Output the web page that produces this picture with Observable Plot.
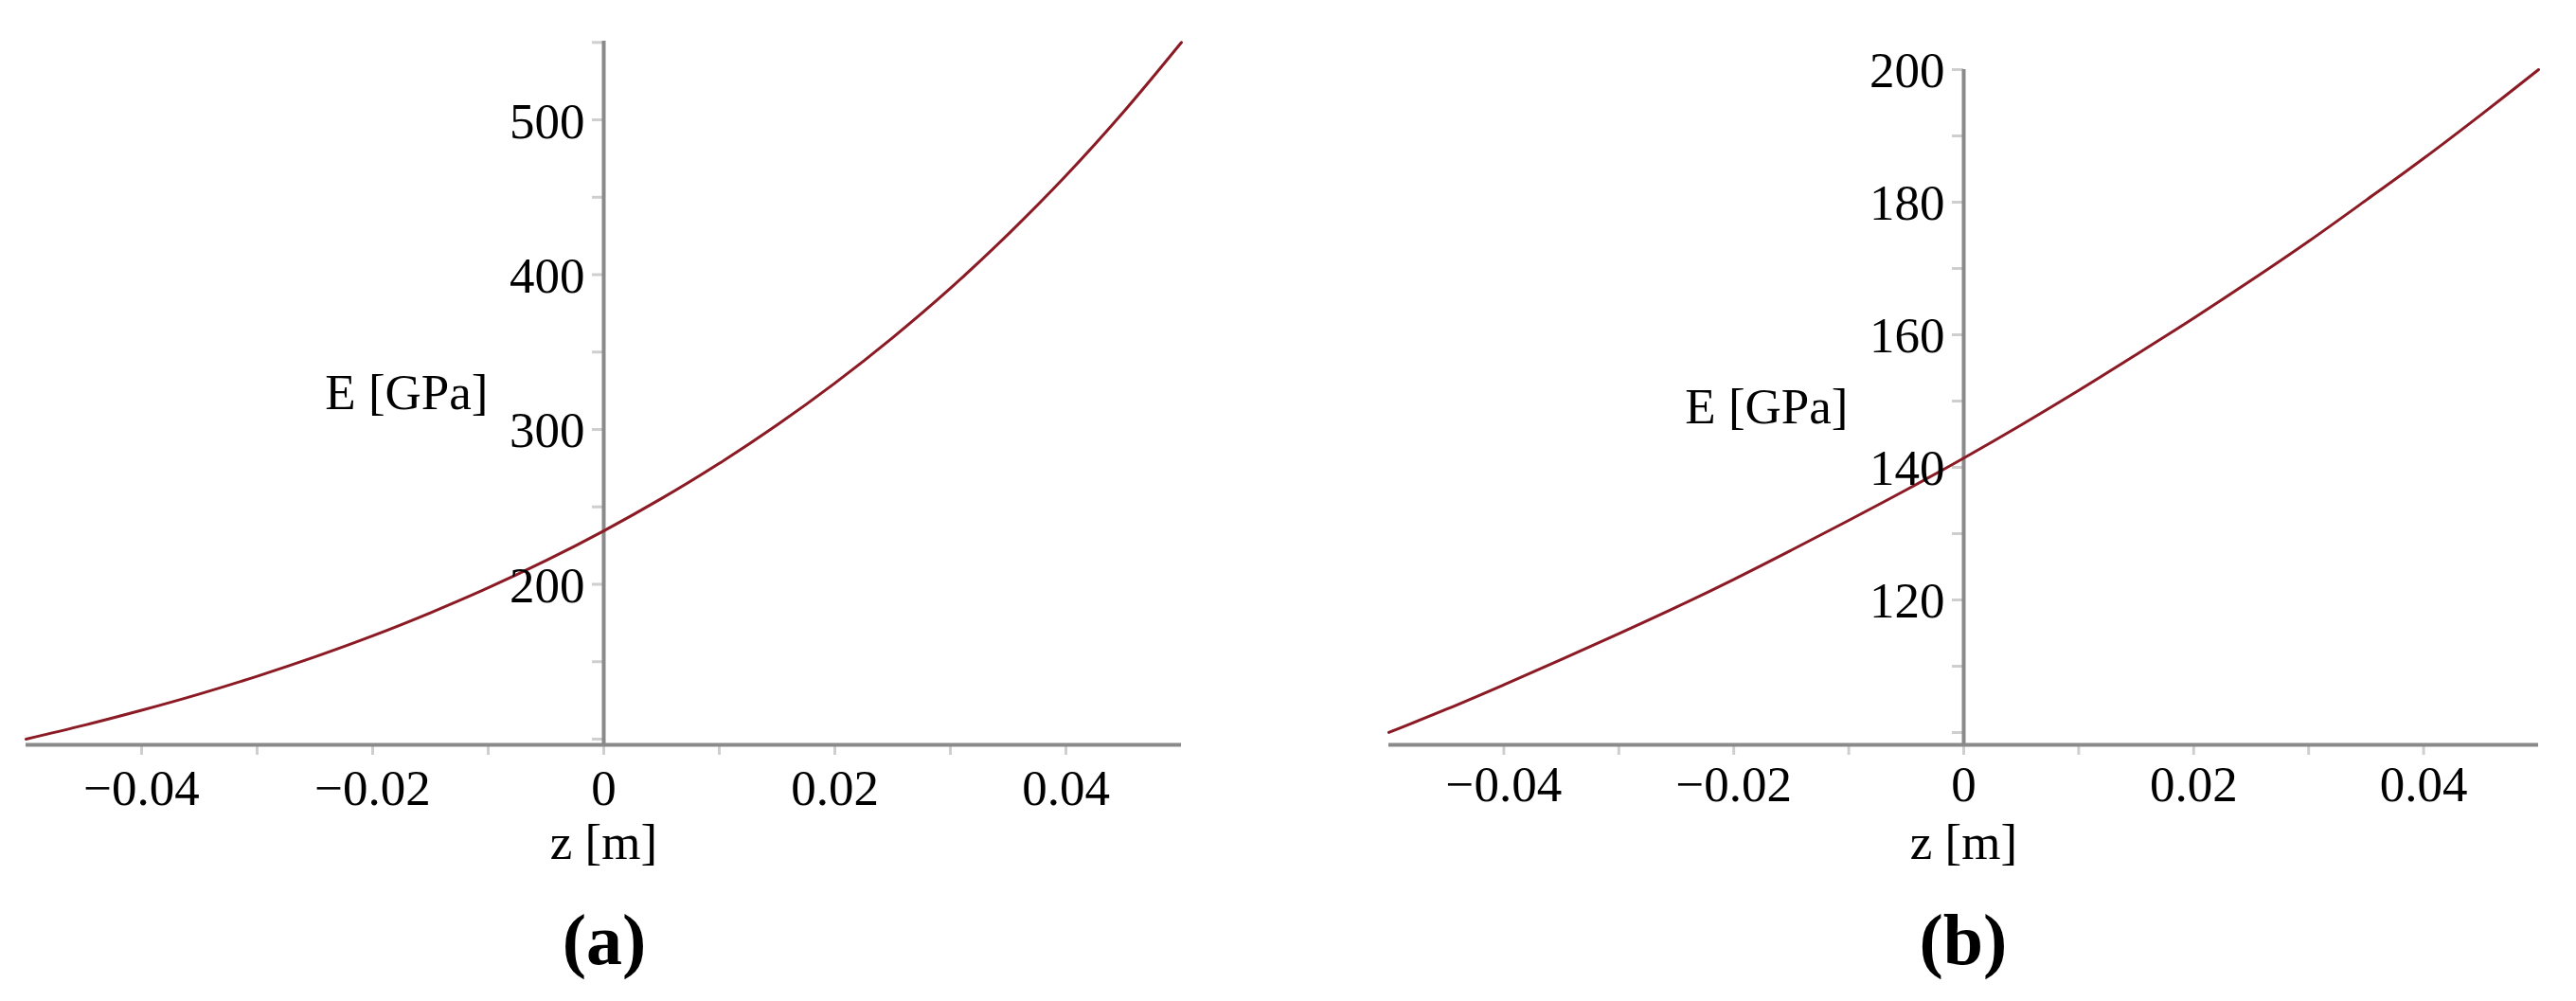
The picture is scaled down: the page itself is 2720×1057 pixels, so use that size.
<!DOCTYPE html>
<html>
<head>
<meta charset="utf-8">
<script src="https://cdn.jsdelivr.net/npm/d3@7"></script>
<script src="https://cdn.jsdelivr.net/npm/@observablehq/plot@0.6"></script>
<style>
  html, body { margin: 0; padding: 0; background: #ffffff; }
  #wrap { position: relative; width: 2720px; height: 1057px; overflow: hidden; background: #fff; }
  .panel { position: absolute; top: 0; width: 1360px; height: 1057px; }
  .panel svg { position: absolute; left: 0; top: 0; }
  .cap { position: absolute; top: 954px; width: 400px; text-align: center;
         font: bold 76px "Liberation Serif", "Times New Roman", serif; line-height: 76px; color: #000; }
</style>
</head>
<body>
<div id="wrap">
  <div class="panel" id="pa" style="left:0px"></div>
  <div class="panel" id="pb" style="left:1360px"></div>
</div>
<script>
// ---- data ----
const zValues = [-0.05, -0.045, -0.04, -0.035, -0.03, -0.025, -0.02, -0.015, -0.01, -0.005, 0,
                 0.005, 0.01, 0.015, 0.02, 0.025, 0.03, 0.035, 0.04, 0.045, 0.05];
const eValuesA = [100, 108.9, 118.6, 129.1, 140.6, 153.1, 166.7, 181.6, 197.7, 215.3, 234.5,
                  255.4, 278.1, 302.9, 329.9, 359.3, 391.2, 426.1, 463.9, 505.2, 550];
const eValuesB = [100, 103.5, 107.2, 111.0, 114.9, 118.9, 123.1, 127.5, 132.0, 136.6, 141.4,
                  146.4, 151.6, 157.0, 162.5, 168.2, 174.1, 180.3, 186.6, 193.2, 200];

const xTickLabels = [-0.04, -0.02, 0, 0.02, 0.04];
const xMinorTicks = [-0.04, -0.03, -0.02, -0.01, 0, 0.01, 0.02, 0.03, 0.04];
const yTickLabelsA = [200, 300, 400, 500];
const yMinorTicksA = [100, 150, 200, 250, 300, 350, 400, 450, 500, 550];
const yTickLabelsB = [120, 140, 160, 180, 200];
const yMinorTicksB = [100, 110, 120, 130, 140, 150, 160, 170, 180, 190, 200];
const xAxisLabel = "z [m]";
const yAxisLabel = "E [GPa]";
const captions = ["(a)", "(b)"];

// ---- styling ----
const FONT = "Liberation Serif";
const FS = 53;
const AXIS = "#8a8a8a";
const TICK = "#cfcfcf";
const CURVE = "#8b1a24";
const SVG_H = 940;
const AXIS_Y = 786;

function makePanel({values, yDomain, yMinor, yLabels, marginTop, marginLeft, marginRight, xLabelDy}) {
  const data = zValues.map((z, i) => ({z, e: values[i]}));
  const yMin = yDomain[0];
  return Plot.plot({
    width: 1360,
    height: SVG_H,
    marginTop,
    marginLeft,
    marginRight,
    marginBottom: SVG_H - AXIS_Y,
    style: {fontFamily: FONT, background: "transparent", overflow: "visible"},
    x: {domain: [-0.05, 0.05], axis: null},
    y: {domain: yDomain, axis: null},
    marks: [
      // minor ticks on x axis (below line)
      Plot.ruleX(xMinorTicks, {x: d => d, y1: yMin, y2: yMin, insetTop: 2, insetBottom: -11, stroke: TICK, strokeWidth: 3}),
      // minor ticks on y axis (left of line)
      Plot.ruleY(yMinor, {y: d => d, x1: 0, x2: 0, insetLeft: -12, insetRight: 0, stroke: TICK, strokeWidth: 3}),
      // axis lines
      Plot.ruleY([yMin], {stroke: AXIS, strokeWidth: 4}),
      Plot.ruleX([0], {stroke: AXIS, strokeWidth: 4}),
      // curve
      Plot.line(data, {x: "z", y: "e", stroke: CURVE, strokeWidth: 3, curve: "catmull-rom"}),
      // x tick labels
      Plot.text(xTickLabels, {x: d => d, frameAnchor: "bottom", lineAnchor: "top", dy: xLabelDy,
        text: d => d3.format("")(d).replace("-", "\u2212"), fontSize: FS, fill: "#000", fontFamily: FONT}),
      // y tick labels
      Plot.text(yLabels, {y: d => d, x: () => 0, dx: -20, dy: 2, textAnchor: "end", lineAnchor: "middle",
        text: d => String(d), fontSize: FS, fill: "#000", fontFamily: FONT}),
      // axis titles
      Plot.text([{x: 0, t: yAxisLabel}], {x: "x", frameAnchor: "middle", dx: -122, textAnchor: "end",
        lineAnchor: "middle", text: "t", fontSize: FS, fill: "#000", fontFamily: FONT}),
      Plot.text([{x: 0, t: xAxisLabel}], {x: "x", frameAnchor: "bottom", lineAnchor: "top", dy: 83,
        text: "t", fontSize: FS, fill: "#000", fontFamily: FONT})
    ]
  });
}

const pa = makePanel({values: eValuesA, yDomain: [96.3, 550.8], yMinor: yMinorTicksA, yLabels: yTickLabelsA,
  marginTop: 43, marginLeft: 27, marginRight: 113, xLabelDy: 26});
const pb = makePanel({values: eValuesB, yDomain: [98.14, 200], yMinor: yMinorTicksB, yLabels: yTickLabelsB,
  marginTop: 73, marginLeft: 106, marginRight: 40, xLabelDy: 22});

document.getElementById("pa").appendChild(pa);
document.getElementById("pb").appendChild(pb);

function addCaption(id, text, center) {
  const d = document.createElement("div");
  d.className = "cap";
  d.style.left = (center - 200) + "px";
  d.textContent = text;
  document.getElementById(id).appendChild(d);
}
addCaption("pa", captions[0], 638);
addCaption("pb", captions[1], 713);
</script>
</body>
</html>
